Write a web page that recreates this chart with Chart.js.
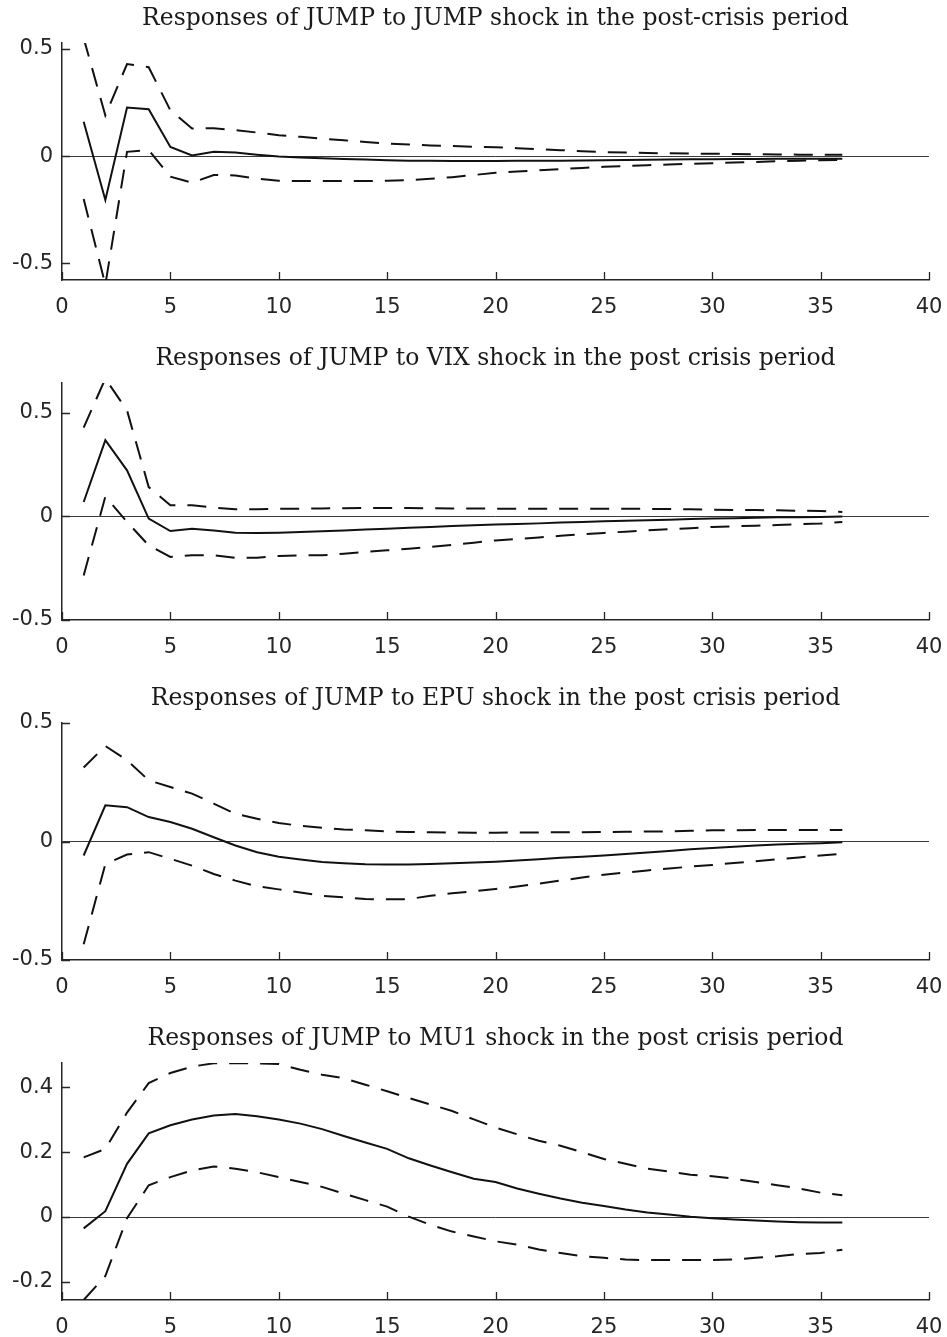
<!DOCTYPE html>
<html>
<head>
<meta charset="utf-8">
<script src="https://cdn.jsdelivr.net/npm/chart.js@4.4.1/dist/chart.umd.min.js"></script>
<style>
  html, body { margin: 0; padding: 0; background: #fff; }
  #wrap { position: relative; width: 947px; height: 1337px; }
  #wrap canvas { position: absolute; left: 0; }
</style>
</head>
<body>
<div id="wrap">
  <canvas id="p1" width="947" height="317" style="top:0px"></canvas>
  <canvas id="p2" width="947" height="317" style="top:340px"></canvas>
  <canvas id="p3" width="947" height="317" style="top:680px"></canvas>
  <canvas id="p4" width="947" height="317" style="top:1020px"></canvas>
</div>
<script>
(() => {
  // horizon (periods after the shock) and axis ticks
  const horizon = [1,2,3,4,5,6,7,8,9,10,11,12,13,14,15,16,17,18,19,20,21,22,23,24,25,26,27,28,29,30,31,32,33,34,35,36];
  const xTicks = [0,5,10,15,20,25,30,35,40];
  const yTicksHalf = [-0.5,0,0.5];
  const yTicksMu = [-0.2,0,0.2,0.4];

  const titles = [
    'Responses of JUMP to JUMP shock in the post-crisis period',
    'Responses of JUMP to VIX shock in the post crisis period',
    'Responses of JUMP to EPU shock in the post crisis period',
    'Responses of JUMP to MU1 shock in the post crisis period',
  ];

  // JUMP shock
  const mid1 = [0.16,-0.205,0.227,0.219,0.043,0.003,0.02,0.017,0.007,-0.002,-0.006,-0.01,-0.013,-0.016,-0.019,-0.021,-0.022,-0.023,-0.023,-0.023,-0.022,-0.022,-0.021,-0.02,-0.019,-0.018,-0.017,-0.016,-0.015,-0.014,-0.013,-0.013,-0.012,-0.012,-0.012,-0.012];
  const up1 = [0.55,0.19,0.43,0.415,0.214,0.129,0.13,0.122,0.11,0.098,0.09,0.082,0.074,0.066,0.059,0.054,0.05,0.047,0.044,0.042,0.037,0.032,0.028,0.023,0.019,0.017,0.015,0.013,0.012,0.011,0.01,0.009,0.008,0.007,0.006,0.006];
  const lo1 = [-0.2,-0.6,0.02,0.028,-0.096,-0.124,-0.088,-0.09,-0.105,-0.115,-0.116,-0.116,-0.116,-0.116,-0.115,-0.112,-0.106,-0.098,-0.088,-0.078,-0.072,-0.066,-0.06,-0.055,-0.05,-0.046,-0.042,-0.039,-0.036,-0.033,-0.03,-0.027,-0.024,-0.021,-0.019,-0.018];

  // VIX shock
  const mid2 = [0.069,0.367,0.222,-0.011,-0.071,-0.06,-0.068,-0.079,-0.08,-0.079,-0.076,-0.072,-0.068,-0.064,-0.06,-0.055,-0.051,-0.047,-0.043,-0.04,-0.037,-0.034,-0.03,-0.027,-0.024,-0.021,-0.019,-0.016,-0.013,-0.011,-0.009,-0.007,-0.005,-0.004,-0.003,-0.001];
  const up2 = [0.428,0.664,0.511,0.141,0.053,0.053,0.042,0.034,0.034,0.036,0.037,0.038,0.039,0.04,0.04,0.04,0.039,0.038,0.038,0.037,0.037,0.037,0.037,0.037,0.037,0.036,0.036,0.035,0.034,0.032,0.031,0.03,0.029,0.027,0.026,0.021];
  const lo2 = [-0.285,0.095,-0.027,-0.14,-0.196,-0.188,-0.188,-0.2,-0.2,-0.191,-0.188,-0.188,-0.18,-0.172,-0.164,-0.156,-0.148,-0.138,-0.127,-0.116,-0.109,-0.102,-0.094,-0.087,-0.08,-0.074,-0.068,-0.062,-0.057,-0.051,-0.048,-0.045,-0.042,-0.038,-0.035,-0.027];

  // EPU shock
  const mid3 = [-0.059,0.153,0.145,0.103,0.082,0.054,0.018,-0.017,-0.045,-0.064,-0.076,-0.086,-0.092,-0.096,-0.097,-0.097,-0.095,-0.092,-0.089,-0.085,-0.08,-0.075,-0.069,-0.064,-0.059,-0.053,-0.046,-0.04,-0.033,-0.027,-0.022,-0.017,-0.013,-0.009,-0.007,-0.003];
  const up3 = [0.312,0.403,0.343,0.258,0.23,0.202,0.16,0.117,0.096,0.078,0.066,0.058,0.051,0.047,0.042,0.04,0.039,0.038,0.037,0.037,0.038,0.038,0.039,0.039,0.04,0.041,0.042,0.043,0.045,0.047,0.047,0.048,0.048,0.049,0.049,0.049];
  const lo3 = [-0.434,-0.095,-0.055,-0.045,-0.073,-0.102,-0.137,-0.165,-0.189,-0.202,-0.215,-0.229,-0.236,-0.243,-0.244,-0.243,-0.229,-0.218,-0.21,-0.2,-0.19,-0.178,-0.165,-0.152,-0.14,-0.131,-0.122,-0.114,-0.106,-0.099,-0.091,-0.083,-0.075,-0.067,-0.059,-0.052];

  // MU1 shock
  const mid4 = [-0.035,0.018,0.164,0.258,0.283,0.301,0.313,0.318,0.311,0.301,0.288,0.271,0.25,0.23,0.21,0.181,0.159,0.138,0.118,0.108,0.088,0.072,0.057,0.044,0.034,0.023,0.014,0.008,0.001,-0.004,-0.008,-0.011,-0.014,-0.016,-0.017,-0.017];
  const up4 = [0.184,0.21,0.322,0.413,0.444,0.464,0.474,0.474,0.474,0.472,0.454,0.439,0.428,0.408,0.388,0.367,0.347,0.327,0.301,0.276,0.255,0.235,0.22,0.2,0.179,0.164,0.149,0.14,0.13,0.126,0.118,0.108,0.098,0.088,0.075,0.067];
  const lo4 = [-0.256,-0.182,-0.004,0.098,0.123,0.144,0.156,0.149,0.138,0.123,0.108,0.093,0.072,0.052,0.032,0.001,-0.024,-0.045,-0.06,-0.075,-0.085,-0.1,-0.111,-0.121,-0.126,-0.131,-0.133,-0.133,-0.133,-0.133,-0.131,-0.126,-0.121,-0.114,-0.111,-0.101];

  const axisColor = '#262626';
  const tickFont = { family: '"DejaVu Sans", sans-serif', size: 21 };
  const PLOT_LEFT = 62, PLOT_RIGHT_PAD = 18, XAXIS_H = 37;

  const pts = (ys) => horizon.map((h, i) => ({ x: h, y: ys[i] }));

  // matlab style ticks pointing into the axes
  const inwardTicks = {
    id: 'inwardTicks',
    afterDraw(chart) {
      const { ctx, chartArea: a, scales: { x, y } } = chart;
      ctx.save();
      ctx.strokeStyle = axisColor;
      ctx.lineWidth = 1.3;
      ctx.beginPath();
      x.ticks.forEach((t) => {
        const px = Math.round(x.getPixelForValue(t.value)) + 0.5;
        ctx.moveTo(px, a.bottom); ctx.lineTo(px, a.bottom - 8);
      });
      y.ticks.forEach((t) => {
        const py = Math.round(y.getPixelForValue(t.value)) + 0.5;
        ctx.moveTo(a.left, py); ctx.lineTo(a.left + 8, py);
      });
      ctx.stroke();
      ctx.restore();
    },
  };

  // keep the plot box fixed, labels may hang outside it
  const noMargins = (s) => { s.paddingLeft = 0; s.paddingRight = 0; s.paddingTop = 0; s.paddingBottom = 0; };

  function makePanel(id, title, mid, up, lo, yMin, yMax, yTicks) {
    const line = (data, dash) => ({
      data: pts(data), borderColor: '#111', borderWidth: 2, borderDash: dash,
      pointRadius: 0, tension: 0, fill: false,
    });
    return new Chart(document.getElementById(id), {
      type: 'line',
      data: { datasets: [line(mid, []), line(up, [19, 12]), line(lo, [19, 12])] },
      options: {
        responsive: false,
        animation: false,
        devicePixelRatio: 1,
        layout: { padding: { left: 0, right: PLOT_RIGHT_PAD, top: 0, bottom: 0 } },
        plugins: {
          legend: { display: false },
          tooltip: { enabled: false },
          title: {
            display: true, text: title, fullSize: false, color: '#1a1a1a',
            font: { family: '"DejaVu Serif", serif', size: 23.5, weight: 'normal', lineHeight: 1.2 },
            padding: { top: 5, bottom: 9.8 },
          },
        },
        scales: {
          x: {
            type: 'linear', min: 0, max: 40,
            afterBuildTicks: (s) => { s.ticks = xTicks.map((v) => ({ value: v })); },
            afterFit: (s) => { s.height = XAXIS_H; noMargins(s); },
            grid: { display: true, drawOnChartArea: false, drawTicks: false, color: 'transparent' },
            border: { display: true, color: axisColor, width: 1.5 },
            ticks: { color: axisColor, padding: 15, maxRotation: 0, font: tickFont },
          },
          y: {
            type: 'linear', min: yMin, max: yMax,
            afterBuildTicks: (s) => { s.ticks = yTicks.map((v) => ({ value: v })); },
            afterFit: (s) => { s.width = PLOT_LEFT; noMargins(s); },
            grid: {
              drawTicks: false,
              color: (c) => (c.tick && c.tick.value === 0 ? '#3a3a3a' : 'transparent'),
              lineWidth: 1,
            },
            border: { display: true, color: axisColor, width: 1.5 },
            ticks: { color: axisColor, padding: 9, font: tickFont, callback: (v) => String(v) },
          },
        },
      },
      plugins: [inwardTicks],
    });
  }

  makePanel('p1', titles[0], mid1, up1, lo1, -0.578, 0.528, yTicksHalf);
  makePanel('p2', titles[1], mid2, up2, lo2, -0.5, 0.643, yTicksHalf);
  makePanel('p3', titles[2], mid3, up3, lo3, -0.5, 0.5, yTicksHalf);
  makePanel('p4', titles[3], mid4, up4, lo4, -0.256, 0.475, yTicksMu);
})();
</script>
</body>
</html>
